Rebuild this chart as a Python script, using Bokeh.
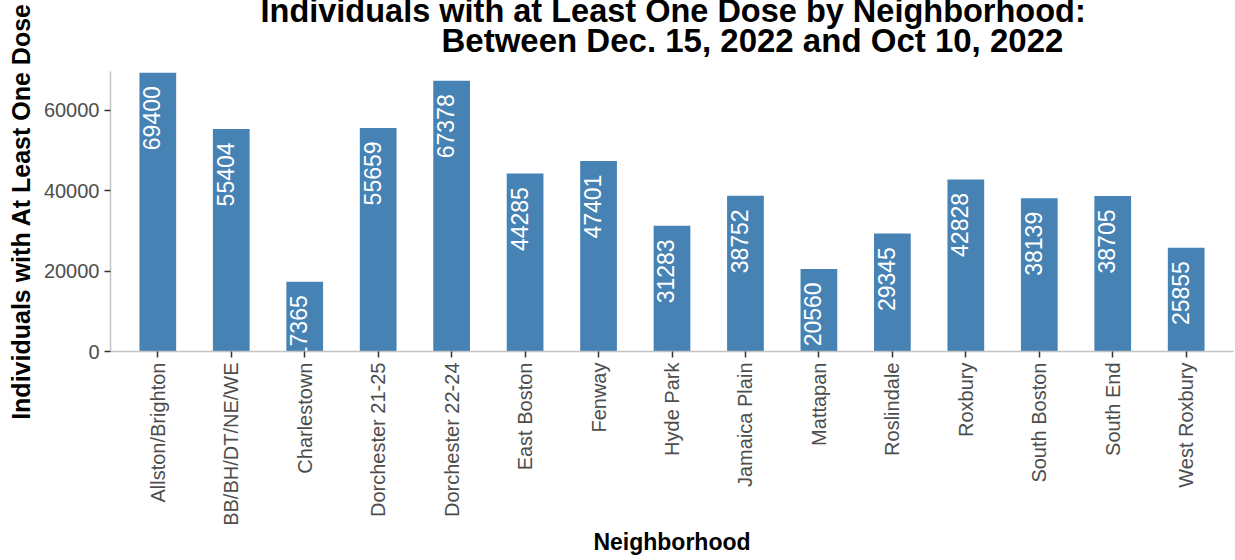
from bokeh.plotting import figure
from bokeh.models import ColumnDataSource, LabelSet, Title, Range1d, FactorRange, FixedTicker, NumeralTickFormatter
from bokeh.core.properties import value
from bokeh.embed import file_html
from bokeh.resources import INLINE
import math

neighborhoods = ["Allston/Brighton", "BB/BH/DT/NE/WE", "Charlestown", "Dorchester 21-25",
                 "Dorchester 22-24", "East Boston", "Fenway", "Hyde Park", "Jamaica Plain",
                 "Mattapan", "Roslindale", "Roxbury", "South Boston", "South End", "West Roxbury"]
doses = [69400, 55404, 17365, 55659, 67378, 44285, 47401, 31283, 38752, 20560, 29345, 42828, 38139, 38705, 25855]
y_ticks = [0, 20000, 40000, 60000]
title_line1 = "Individuals with at Least One Dose by Neighborhood:"
title_line2 = "Between Dec. 15, 2022 and Oct 10, 2022"
x_label = "Neighborhood"
y_label = "Individuals with At Least One Dose"

W, H = 1235, 560
FONT = "Liberation Sans"
Y_MAX = 69700

source = ColumnDataSource(dict(n=neighborhoods, v=doses, t=[str(d) for d in doses]))

p = figure(width=W, height=H, output_backend="svg", toolbar_location=None, title=None,
           x_range=FactorRange(factors=neighborhoods, range_padding=0.144, range_padding_units="absolute"),
           y_range=Range1d(0, Y_MAX),
           min_border_left=110, min_border_right=2, min_border_top=71, min_border_bottom=209)

p.vbar(x="n", top="v", width=0.5, source=source, color="#4682B4", line_color=None)

labels = LabelSet(x="n", y="v", text="t", source=source, angle=math.pi / 2,
                  text_align="right", text_baseline="alphabetic",
                  x_offset=2.5, y_offset=-13.5, text_color="white",
                  text_font=value(FONT), text_font_size="23px", level="glyph")
p.add_layout(labels)

p.outline_line_color = None
p.xgrid.grid_line_color = None
p.ygrid.grid_line_color = None
p.background_fill_color = "white"
p.border_fill_color = "white"

for ax in (p.xaxis[0], p.yaxis[0]):
    ax.axis_line_color = "#c4c4c4"
    ax.axis_line_width = 1.5
    ax.major_tick_line_color = "#333333"
    ax.major_tick_line_width = 1.5
    ax.major_tick_out = 6
    ax.major_tick_in = 0
    ax.minor_tick_line_color = None
    ax.major_label_text_font = FONT
    ax.major_label_text_font_size = "20px"
    ax.major_label_text_color = "#4d4d4d"
    ax.major_label_standoff = 5
    ax.axis_label_text_font = FONT
    ax.axis_label_text_font_style = "bold"
    ax.axis_label_text_color = "black"

p.yaxis.ticker = FixedTicker(ticks=y_ticks)
p.yaxis.formatter = NumeralTickFormatter(format="0")
p.yaxis.axis_label = y_label
p.yaxis.axis_label_text_font_size = "25px"
p.yaxis.axis_label_standoff = 6

p.xaxis.axis_label = x_label
p.xaxis.axis_label_text_font_size = "23px"
p.xaxis.major_label_orientation = math.pi / 2
p.xaxis.axis_label_standoff = 0

# two title lines; the first added sits closest to the plot frame.
# the outer line is given a negative standoff so that, as in the reference,
# it sits partly above the top edge of the picture.
t2 = Title(text=title_line2, align="left", offset=331, standoff=26, vertical_align="bottom",
           text_font=FONT, text_font_style="bold", text_font_size="33px", text_color="black")
t1 = Title(text=title_line1, align="left", offset=150, standoff=-45, vertical_align="bottom",
           text_font=FONT, text_font_style="bold", text_font_size="32.5px", text_color="black")
p.add_layout(t2, "above")
p.add_layout(t1, "above")

open("out.html", "w").write(file_html(p, INLINE))
